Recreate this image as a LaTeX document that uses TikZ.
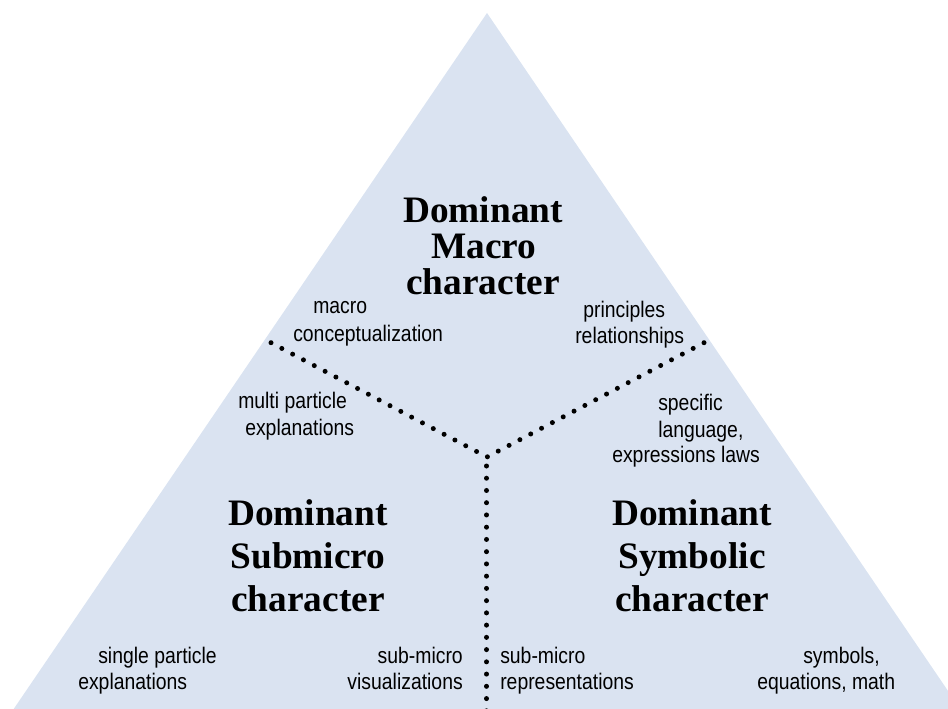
\documentclass[tikz,border=0pt]{standalone}
\usepackage{fontspec}
\setmainfont{Liberation Serif}
\newfontfamily\labelfont[FakeStretch=0.86]{Liberation Sans}
\definecolor{paleblue}{RGB}{218,227,241}
\begin{document}
\begin{tikzpicture}[x=0.75pt,y=-0.75pt,
  title/.style={inner sep=0pt,anchor=base,font=\fontsize{28}{30}\selectfont\bfseries},
  note/.style={inner sep=0pt,anchor=base west,font=\labelfont\fontsize{16.9}{19}\selectfont},
  noteR/.style={note,anchor=base east},
  divider/.style={line width=3.75pt,line cap=round,dash pattern=on 0pt off 9.18pt}]
\useasboundingbox (0,0) rectangle (948,709);
\clip (0,0) rectangle (948,709);

% pyramid
\fill[paleblue] (487,13) -- (995,760) -- (-21,760) -- cycle;

% dividing lines
\coordinate (tl) at (271,342.7);
\coordinate (tr) at (704,342.7);
\coordinate (hub) at (487,457);
\coordinate (vtop) at (486.5,466);
\coordinate (vbot) at (486.5,740);
\draw[divider] (tl) -- (hub);
\draw[divider] (tr) -- (hub);
\draw[divider] (vtop) -- (vbot);

% macro corner
\node[title] (ma1) at (483,223) {Dominant};
\node[title] (ma2) at (484,258) {Macro};
\node[title] (ma3) at (483,294) {character};

% submicro corner
\node[title] (sm1) at (308,525) {Dominant};
\node[title] (sm2) at (308,568) {Submicro};
\node[title] (sm3) at (308,611) {character};

% symbolic corner
\node[title] (sy1) at (692,525) {Dominant};
\node[title] (sy2) at (692,568) {Symbolic};
\node[title] (sy3) at (692,611) {character};

% labels along the borders
\node[note] (mc1) at (313,313) {macro};
\node[note] (mc2) at (293,341) {conceptualization};
\node[note] (pr1) at (583,317) {principles};
\node[note] (pr2) at (575,343) {relationships};
\node[note] (mp1) at (238,408) {multi particle};
\node[note] (mp2) at (245,435) {explanations};
\node[note] (sl1) at (658,410) {specific};
\node[note] (sl2) at (658,437) {language,};
\node[note] (sl3) at (612,462) {expressions laws};
\node[note] (sp1) at (98,663) {single particle};
\node[note] (sp2) at (78,689) {explanations};
\node[noteR] (sv1) at (463,663) {sub-micro};
\node[noteR] (sv2) at (463,689) {visualizations};
\node[note] (sr1) at (500,663) {sub-micro};
\node[note] (sr2) at (500,689) {representations};
\node[note] (se1) at (803,663) {symbols,};
\node[note] (se2) at (757,689) {equations, math};
\end{tikzpicture}
\end{document}
